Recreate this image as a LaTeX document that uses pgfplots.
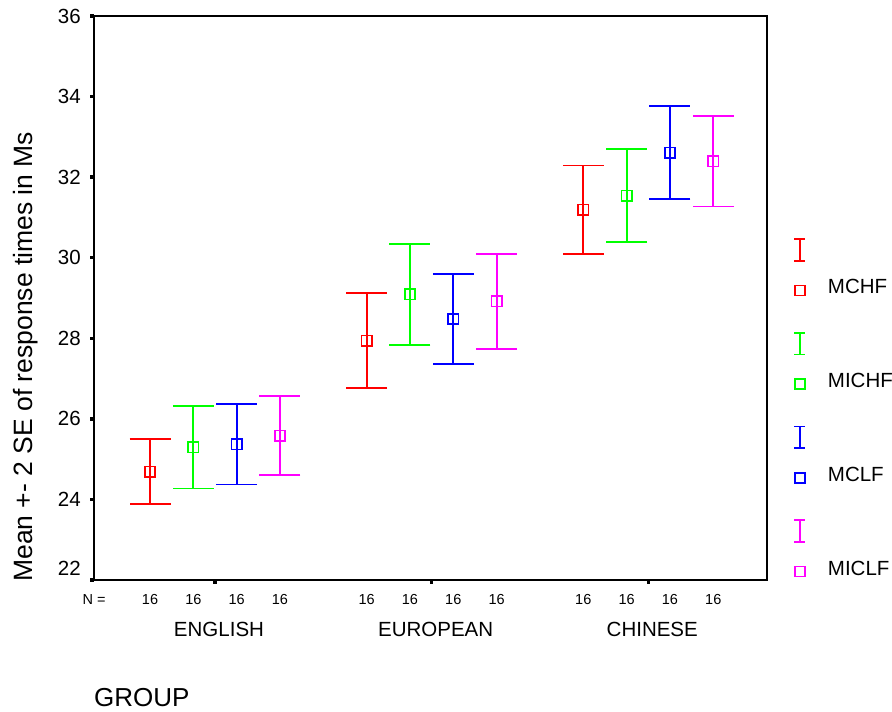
\documentclass[border=0pt]{standalone}
\usepackage{fontspec}
\setmainfont{Liberation Sans}
\usepackage{pgfplots}
\pgfplotsset{compat=1.18}
\definecolor{sred}{RGB}{255,0,0}
\definecolor{sgreen}{RGB}{0,255,0}
\definecolor{sblue}{RGB}{0,0,255}
\definecolor{smag}{RGB}{255,0,255}
\pgfplotsset{
  mylegend/.style={legend image code/.code={
    \path[draw=none, fill=none] (-8pt,-12pt) rectangle (8pt,52pt);
    \draw[draw=#1, fill=none, line width=1.6pt] (0pt,26.8pt) -- (0pt,48.5pt);
    \draw[draw=#1, fill=none, line width=1.6pt] (-5.5pt,26.8pt) -- (5.5pt,26.8pt) (-5.5pt,48.5pt) -- (5.5pt,48.5pt);
    \draw[draw=#1, fill=none, line width=1.6pt] (-5pt,-8pt) rectangle (5pt,2pt);
  }},
  myerr/.style={#1, only marks, mark=square, mylegend=#1,
    mark options={solid, draw=#1, fill=none, line width=1.6pt, mark size=5.2pt},
    error bars/.cd, y dir=both, y explicit, error mark=|,
    error mark options={draw=#1, line width=1.8pt, mark size=20.5pt},
    error bar style={draw=#1, line width=1.8pt, solid}}
}
\begin{document}
\begin{tikzpicture}[x=1pt,y=1pt]
\useasboundingbox (0,0) rectangle (892,712);
\begin{axis}[
  at={(94pt,132pt)}, anchor=south west,
  scale only axis, width=673pt, height=564pt,
  xmin=0.4415, xmax=3.548, ymin=22, ymax=36,
  clip=false,
  axis line style={line width=1.8pt, black},
  xtick pos=bottom, ytick pos=left,
  tick align=outside, major tick length=4pt,
  tick style={line width=3.5pt, black},
  xtick={1,2,3}, xticklabels={},
  ytick={24,26,...,36},
  extra y ticks={22},
  extra y tick style={yticklabel style={yshift=12pt}},
  yticklabel style={font=\fontsize{20.5}{24}\selectfont, anchor=east, inner sep=0pt, xshift=-9pt},
  /pgf/number format/assume math mode=true,
  legend cell align=left,
  legend style={at={(1.0371,0.6108)}, anchor=north west, draw=none, fill=none,
    inner sep=0pt, outer sep=0pt, row sep=29.7pt, column sep=20pt,
    font=\fontsize{20.5}{24}\selectfont, nodes={inner sep=0pt}},
]
\addplot[myerr=sred] table[x=x, y=y, y error=e] {
x y e
0.7 24.69 0.80
1.7 27.94 1.18
2.7 31.195 1.095
};
\addlegendentry{MCHF}
\addplot[myerr=sgreen] table[x=x, y=y, y error=e] {
x y e
0.9 25.29 1.02
1.9 29.09 1.25
2.9 31.54 1.15
};
\addlegendentry{MICHF}
\addplot[myerr=sblue] table[x=x, y=y, y error=e] {
x y e
1.1 25.37 1.00
2.1 28.48 1.12
3.1 32.61 1.15
};
\addlegendentry{MCLF}
\addplot[myerr=smag] table[x=x, y=y, y error=e] {
x y e
1.3 25.58 0.98
2.3 28.915 1.175
3.3 32.395 1.125
};
\addlegendentry{MICLF}
\pgfplotsinvokeforeach{0.7,0.9,1.1,1.3,1.7,1.9,2.1,2.3,2.7,2.9,3.1,3.3}{
  \node[anchor=base, font=\fontsize{14.5}{17}\selectfont, inner sep=0pt] at ([yshift=-24.2pt]axis cs:#1,22) {16};
}
\node[anchor=base, font=\fontsize{14.5}{17}\selectfont, inner sep=0pt] at ([yshift=-24.2pt]axis cs:0.4415,22) {N =};
\node[anchor=base, font=\fontsize{20.5}{24}\selectfont, inner sep=0pt] at ([xshift=4pt,yshift=-56.4pt]axis cs:1,22) {ENGLISH};
\node[anchor=base, font=\fontsize{20.5}{24}\selectfont, inner sep=0pt] at ([xshift=4pt,yshift=-56.4pt]axis cs:2,22) {EUROPEAN};
\node[anchor=base, font=\fontsize{20.5}{24}\selectfont, inner sep=0pt] at ([xshift=4pt,yshift=-56.4pt]axis cs:3,22) {CHINESE};
\end{axis}
\node[rotate=90, anchor=base, font=\fontsize{26.5}{30}\selectfont, inner sep=0pt] at (32,355.3) {Mean +- 2 SE of response times in Ms};
\node[anchor=base west, font=\fontsize{26}{30}\selectfont, inner sep=0pt] at (94,5.5) {GROUP};
\end{tikzpicture}
\end{document}
